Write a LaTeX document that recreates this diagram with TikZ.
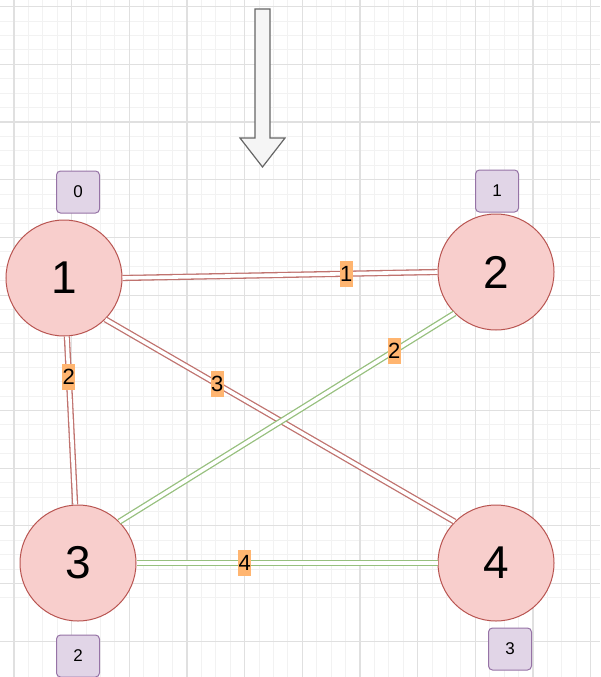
\documentclass[tikz,border=0pt]{standalone}
\usepackage{fontspec}
\setmainfont{Liberation Sans}
\definecolor{nodofill}{HTML}{F8CECC}
\definecolor{nodobordo}{HTML}{B85450}
\definecolor{idxfill}{HTML}{E1D5E7}
\definecolor{idxbordo}{HTML}{9673A6}
\definecolor{arcorosso}{HTML}{C0736F}
\definecolor{arcoverde}{HTML}{97C07E}
\definecolor{etich}{HTML}{FFB570}
\definecolor{grigliamin}{HTML}{F2F2F2}
\definecolor{grigliamag}{HTML}{E0E0E0}
\tikzset{
  nodo/.style={circle,draw=nodobordo,fill=nodofill,line width=1pt,minimum size=116pt,inner sep=0pt,font=\fontsize{46}{46}\selectfont},
  indice/.style={rectangle,rounded corners=4pt,draw=idxbordo,fill=idxfill,line width=1pt,minimum width=43pt,minimum height=42pt,inner sep=0pt,font=\fontsize{17}{17}\selectfont},
  rosso/.style={draw=arcorosso,double=white,double distance=3.6pt,line width=1.3pt},
  verde/.style={draw=arcoverde,double=white,double distance=3.6pt,line width=1.3pt},
  peso/.style={fill=etich,inner sep=0pt,minimum width=13pt,minimum height=26pt,font=\fontsize{22}{22}\selectfont}
}
\begin{document}
\begin{tikzpicture}[x=1pt,y=-1pt]
        \useasboundingbox (0,0) rectangle (600,677);
        \fill[white] (0,0) rectangle (600,677);
        %griglia
        \begin{scope}
        \clip (0,0) rectangle (600,677);
        \foreach \i in {0,...,42} {
        \draw[grigliamin,line width=1pt] ({-0.5+14.42*\i},0) -- ++(0,677);
        \draw[grigliamin,line width=1pt] (0,{-7.7+14.42*\i}) -- ++(600,0);}
        \foreach \i in {1,5,...,45} {
        \draw[grigliamag,line width=1.2pt] ({-0.5+14.42*\i},0) -- ++(0,677);
        \draw[grigliamag,line width=1.2pt] (0,{-7.7+14.42*\i}) -- ++(600,0);}
        \end{scope}
        %freccia
        \draw[fill=black!4,draw=black!60,line width=1.2pt,line join=miter]
        (255,9) -- (270,9) -- (270,138) -- (285,138) -- (262.5,167)
        -- (240,138) -- (255,138) -- cycle;
        %nodi
        \node[nodo] (n1) at (64,278) {1};
        \node[nodo] (n2) at (496,272) {2};
        \node[nodo] (n3) at (78,563) {3};
        \node[nodo] (n4) at (496,563) {4};
        %indici
        \node[indice] (i0) at (78,192) {0};
        \node[indice] (i1) at (497,191) {1};
        \node[indice] (i2) at (78,656) {2};
        \node[indice] (i3) at (510,649) {3};
        %archi
        \draw[rosso] (n1.0) -- node[peso,pos=0.71] {1} (n2.180);
        \draw[rosso] (n1) -- node[peso,pos=0.24] {2} (n3);
        \draw[rosso] (n1.-45) -- node[peso,pos=0.32] {3} (n4.135);
        \draw[verde] (n2.225) -- node[peso,pos=0.18] {2} (n3.45);
        \draw[verde] (n3.0) -- node[peso,pos=0.36] {4} (n4.180);
\end{tikzpicture}
\end{document}
